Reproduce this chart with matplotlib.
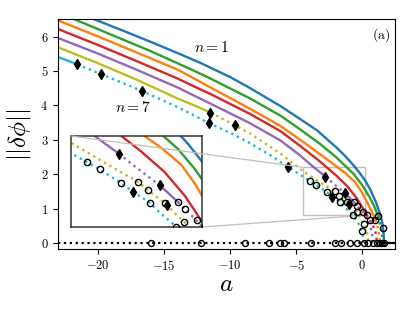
import numpy as np
import matplotlib
matplotlib.use('Agg')
import matplotlib.pyplot as plt
from matplotlib.ticker import FuncFormatter
from matplotlib.patches import Rectangle

plt.rcParams['mathtext.fontset'] = 'cm'
plt.rcParams['font.family'] = 'serif'
plt.rcParams['font.serif'] = ['DejaVu Serif']

# branches n=1..7, values
blue_a = [-21.5, -20.3, -18.0, -16.0, -14.0, -12.3, -10.0, -8.5, -6.2, -4.7, -3.45, -1.94, -1.3, -0.76, -0.28, 0.21, 0.6, 1.0, 1.3, 1.5, 1.57, 1.62, 1.65]
blue_y = [6.7, 6.5, 6.15, 5.84, 5.52, 5.24, 4.82, 4.5, 3.98, 3.6, 3.28, 2.77, 2.53, 2.3, 2.08, 1.82, 1.56, 1.22, 0.9, 0.62, 0.44, 0.26, 0.0]

green_a = [-23.0, -21.8, -19.0, -16.0, -13.0, -11.5, -9.8, -8.5, -6.2, -4.7, -3.2, -2.0, -1.31, -0.64, -0.04, 0.21, 0.6, 0.9, 1.2, 1.35, 1.45, 1.5, 1.52]
green_y = [6.7, 6.5, 6.05, 5.57, 5.05, 4.78, 4.45, 4.2, 3.7, 3.3, 2.88, 2.5, 2.25, 2.0, 1.7, 1.55, 1.3, 1.07, 0.78, 0.56, 0.37, 0.19, 0.0]

orange_a = [-23.0, -20.0, -17.0, -14.0, -11.5, -8.5, -6.2, -4.7, -2.6, -1.97, -1.25, -0.52, -0.04, 0.21, 0.5, 0.8, 1.0, 1.15, 1.25, 1.3, 1.33]
orange_y = [6.46, 6.0, 5.52, 5.04, 4.52, 3.9, 3.4, 3.0, 2.41, 2.23, 2.02, 1.76, 1.48, 1.30, 1.08, 0.85, 0.67, 0.5, 0.33, 0.2, 0.0]

red_a = [-23.0, -20.0, -17.0, -14.0, -12.3, -11.5, -8.5, -6.2, -4.7, -3.3, -2.76, -1.97, -1.13, -0.40, 0.03, 0.21, 0.33, 0.55, 0.7, 0.9, 1.0, 1.07, 1.1]
red_y = [6.21, 5.75, 5.27, 4.78, 4.47, 4.33, 3.75, 3.25, 2.82, 2.40, 2.22, 1.96, 1.65, 1.29, 1.02, 0.90, 0.82, 0.68, 0.58, 0.43, 0.31, 0.17, 0.0]

purple_a = [-23.0, -20.0, -17.0, -14.0, -12.3, -11.5, -8.5, -6.2, -4.7, -3.67, -2.79, -2.04, -1.31, -0.64, -0.38, 0.03, 0.21, 0.4, 0.55, 0.68, 0.75, 0.8]
purple_y = [5.95, 5.5, 5.02, 4.52, 4.2, 4.05, 3.48, 2.98, 2.54, 2.2, 1.93, 1.68, 1.45, 1.19, 1.08, 0.91, 0.82, 0.69, 0.545, 0.38, 0.24, 0.0]

olive_a = [-23.0, -20.0, -17.0, -14.0, -12.3, -11.5, -9.64, -8.5, -6.2, -4.46, -3.3, -2.10, -1.73, -1.13, -1.03, -0.76, -0.42, -0.28, 0.0, 0.15, 0.3, 0.4, 0.45]
olive_y = [5.68, 5.22, 4.73, 4.2, 3.93, 3.79, 3.42, 3.18, 2.6, 2.08, 1.79, 1.50, 1.37, 1.18, 1.14, 1.02, 0.89, 0.82, 0.65, 0.54, 0.38, 0.22, 0.0]

cyan_a = [-23.0, -21.6, -19.8, -16.7, -14.0, -12.3, -11.6, -10.0, -8.5, -7.0, -5.66, -4.5, -3.95, -3.49, -2.70, -2.28, -1.67, -1.25, -0.88, -0.70, -0.3, -0.05, 0.05, 0.1]
cyan_y = [5.40, 5.19, 4.91, 4.42, 3.95, 3.62, 3.48, 3.2, 2.9, 2.56, 2.22, 1.93, 1.80, 1.69, 1.48, 1.35, 1.18, 1.01, 0.88, 0.81, 0.57, 0.35, 0.2, 0.0]

# a values where the line style switches (solid <-> dotted)
blue_br = []
green_br = [1.2]
orange_br = [1.0]
red_br = [0.33]
purple_br = [-2.79, -1.31, -0.64]
olive_br = [-11.5]
cyan_br = [-21.6]

# bifurcation points
diam_a = [-21.6, -19.8, -16.7, -11.5, -11.6, -9.64, -5.66, -2.79, -1.31, -2.28, -1.03]
diam_y = [5.19, 4.91, 4.42, 3.79, 3.48, 3.42, 2.22, 1.93, 1.45, 1.35, 1.14]

circ_a = [-3.95, -3.49, -2.70, -1.67, -0.70, -0.05, -2.10, -1.73, -1.13, -0.42, 0.15,
          -0.64, -0.38, 0.03, 0.33, 0.55, 1.0, 1.2, 1.57]
circ_y = [1.80, 1.69, 1.48, 1.18, 0.81, 0.35, 1.50, 1.37, 1.18, 0.89, 0.54,
          1.19, 1.08, 0.91, 0.82, 0.68, 0.67, 0.78, 0.44]

zero_circ = [-16.0, -12.2, -8.9, -7.1, -6.2, -5.95, -3.9, -2.1, -1.6, -0.9, -0.4,
             0.1, 0.45, 0.8, 1.1, 1.33, 1.52, 1.65]
a_crit = 1.65

curves = [
    (blue_a, blue_y, '#1f77b4', blue_br),
    (green_a, green_y, '#2ca02c', green_br),
    (orange_a, orange_y, '#ff7f0e', orange_br),
    (red_a, red_y, '#d62728', red_br),
    (purple_a, purple_y, '#9467bd', purple_br),
    (olive_a, olive_y, '#bcbd22', olive_br),
    (cyan_a, cyan_y, '#17becf', cyan_br),
]

xlim = (-23.05, 2.48)
ylim = (-0.174, 6.5)
ins_xlim = (-4.52, 0.23)
ins_ylim = (0.81, 2.2)
ins_box = [-22.05, 0.465, 9.91, 2.645]


def draw_all(axx):
    for a, y, c, br in curves:
        a = np.array(a)
        y = np.array(y)
        cuts = [0] + [int(np.argmin(np.abs(a - b))) for b in br] + [len(a) - 1]
        for k in range(len(cuts) - 1):
            s = slice(cuts[k], cuts[k + 1] + 1)
            axx.plot(a[s], y[s], color=c, ls='-' if k % 2 == 0 else ':', lw=1.7)
    axx.plot([xlim[0], a_crit], [0, 0], 'k:', lw=1.6)
    axx.plot([a_crit, xlim[1]], [0, 0], 'k-', lw=1.6)
    axx.plot(zero_circ, np.zeros(len(zero_circ)), 'o', ms=4.3, mfc='none', mec='k', mew=1.0, zorder=4)
    axx.plot(circ_a, circ_y, 'o', ms=4.5, mfc='none', mec='k', mew=1.0, zorder=4)
    axx.plot(diam_a, diam_y, 'd', ms=5.2, color='k', zorder=5)


fig = plt.figure(figsize=(4.15, 3.11), dpi=100)
ax = fig.add_axes([58/415, 1 - 249/311, 337/415, 229.7/311])
draw_all(ax)
ax.set_xlim(xlim)
ax.set_ylim(ylim)
ax.set_xticks([-20, -15, -10, -5, 0])
ax.set_yticks(range(7))
fmt = FuncFormatter(lambda v, p: f'${v:g}$')
ax.xaxis.set_major_formatter(fmt)
ax.yaxis.set_major_formatter(fmt)
ax.tick_params(labelsize=9)
ax.set_xlabel(r'$a$', fontsize=18, labelpad=0)
ax.set_ylabel(r'$||\delta\phi||$', fontsize=18, labelpad=5)

ax.text(-11.4, 5.67, r'$n{=}1$', fontsize=11, ha='center', va='center')
ax.text(-17.4, 3.95, r'$n{=}7$', fontsize=11, ha='center', va='center')
ax.text(1.45, 6.05, r'$\mathrm{(a)}$', fontsize=10, ha='center', va='center')

# zoom inset
axins = ax.inset_axes(ins_box, transform=ax.transData)
draw_all(axins)
axins.set_xlim(ins_xlim)
axins.set_ylim(ins_ylim)
axins.set_xticks([])
axins.set_yticks([])
for sp in axins.spines.values():
    sp.set_linewidth(1.1)
    sp.set_color('0.2')

ax.add_patch(Rectangle((ins_xlim[0], ins_ylim[0]), ins_xlim[1] - ins_xlim[0], ins_ylim[1] - ins_ylim[0],
                       fill=False, ec='0.75', lw=1.0, zorder=1.5))
bx0, by0, bw, bh = ins_box
ax.plot([bx0, ins_xlim[0]], [by0 + bh, ins_ylim[1]], color='0.75', lw=0.9, zorder=6)
ax.plot([bx0 + bw, ins_xlim[1]], [by0, ins_ylim[0]], color='0.75', lw=0.9, zorder=1.5)

fig.savefig('out.png', dpi=100)
